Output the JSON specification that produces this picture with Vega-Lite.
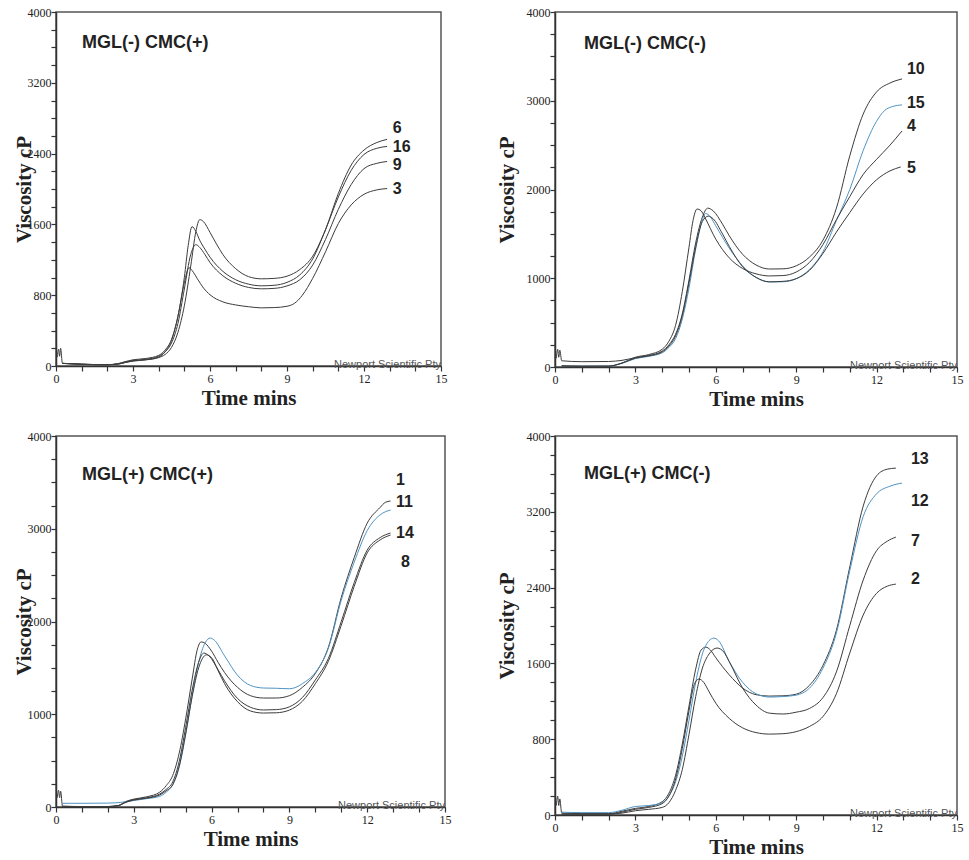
{
"$schema": "https://vega.github.io/schema/vega-lite/v6.json",
"background": "white",
"padding": {"left": 12, "top": 5, "right": 0, "bottom": 5},
"datasets": {
"curves": [
{"p":1,"s":"6","t":0.05,"v":100},{"p":1,"s":"6","t":0.1,"v":190},{"p":1,"s":"6","t":0.14,"v":110},{"p":1,"s":"6","t":0.18,"v":200},{"p":1,"s":"6","t":0.25,"v":30},{"p":1,"s":"6","t":0.5,"v":25},{"p":1,"s":"6","t":1,"v":20},{"p":1,"s":"6","t":1.5,"v":15},{"p":1,"s":"6","t":2,"v":15},{"p":1,"s":"6","t":2.4,"v":25},{"p":1,"s":"6","t":2.7,"v":45},{"p":1,"s":"6","t":3,"v":60},{"p":1,"s":"6","t":3.5,"v":70},{"p":1,"s":"6","t":4,"v":95},{"p":1,"s":"6","t":4.25,"v":130},{"p":1,"s":"6","t":4.5,"v":210},{"p":1,"s":"6","t":4.75,"v":380},{"p":1,"s":"6","t":5,"v":680},{"p":1,"s":"6","t":5.25,"v":1130},{"p":1,"s":"6","t":5.45,"v":1520},{"p":1,"s":"6","t":5.6,"v":1654},{"p":1,"s":"6","t":5.75,"v":1630},{"p":1,"s":"6","t":6,"v":1510},{"p":1,"s":"6","t":6.25,"v":1380},{"p":1,"s":"6","t":6.5,"v":1260},{"p":1,"s":"6","t":7,"v":1100},{"p":1,"s":"6","t":7.5,"v":1010},{"p":1,"s":"6","t":8,"v":985},{"p":1,"s":"6","t":8.5,"v":990},{"p":1,"s":"6","t":9,"v":1015},{"p":1,"s":"6","t":9.5,"v":1090},{"p":1,"s":"6","t":10,"v":1240},{"p":1,"s":"6","t":10.5,"v":1540},{"p":1,"s":"6","t":11,"v":1950},{"p":1,"s":"6","t":11.5,"v":2270},{"p":1,"s":"6","t":12,"v":2440},{"p":1,"s":"6","t":12.5,"v":2525},{"p":1,"s":"6","t":12.9,"v":2561},
{"p":1,"s":"16","t":0.25,"v":30},{"p":1,"s":"16","t":1,"v":20},{"p":1,"s":"16","t":2,"v":15},{"p":1,"s":"16","t":2.4,"v":25},{"p":1,"s":"16","t":2.7,"v":50},{"p":1,"s":"16","t":3,"v":70},{"p":1,"s":"16","t":3.5,"v":85},{"p":1,"s":"16","t":4,"v":120},{"p":1,"s":"16","t":4.25,"v":180},{"p":1,"s":"16","t":4.5,"v":300},{"p":1,"s":"16","t":4.75,"v":560},{"p":1,"s":"16","t":5,"v":1000},{"p":1,"s":"16","t":5.15,"v":1360},{"p":1,"s":"16","t":5.3,"v":1575},{"p":1,"s":"16","t":5.45,"v":1520},{"p":1,"s":"16","t":5.6,"v":1420},{"p":1,"s":"16","t":5.8,"v":1320},{"p":1,"s":"16","t":6,"v":1230},{"p":1,"s":"16","t":6.5,"v":1070},{"p":1,"s":"16","t":7,"v":975},{"p":1,"s":"16","t":7.5,"v":925},{"p":1,"s":"16","t":8,"v":906},{"p":1,"s":"16","t":8.5,"v":912},{"p":1,"s":"16","t":9,"v":945},{"p":1,"s":"16","t":9.5,"v":1030},{"p":1,"s":"16","t":10,"v":1210},{"p":1,"s":"16","t":10.5,"v":1540},{"p":1,"s":"16","t":11,"v":1910},{"p":1,"s":"16","t":11.5,"v":2210},{"p":1,"s":"16","t":12,"v":2390},{"p":1,"s":"16","t":12.5,"v":2460},{"p":1,"s":"16","t":12.9,"v":2481},
{"p":1,"s":"9","t":0.25,"v":30},{"p":1,"s":"9","t":1,"v":20},{"p":1,"s":"9","t":2,"v":15},{"p":1,"s":"9","t":2.4,"v":20},{"p":1,"s":"9","t":2.7,"v":40},{"p":1,"s":"9","t":3,"v":60},{"p":1,"s":"9","t":3.5,"v":75},{"p":1,"s":"9","t":4,"v":110},{"p":1,"s":"9","t":4.25,"v":160},{"p":1,"s":"9","t":4.5,"v":260},{"p":1,"s":"9","t":4.75,"v":480},{"p":1,"s":"9","t":5,"v":870},{"p":1,"s":"9","t":5.25,"v":1260},{"p":1,"s":"9","t":5.45,"v":1371},{"p":1,"s":"9","t":5.6,"v":1340},{"p":1,"s":"9","t":5.8,"v":1260},{"p":1,"s":"9","t":6,"v":1170},{"p":1,"s":"9","t":6.5,"v":1020},{"p":1,"s":"9","t":7,"v":935},{"p":1,"s":"9","t":7.5,"v":888},{"p":1,"s":"9","t":8,"v":872},{"p":1,"s":"9","t":8.5,"v":877},{"p":1,"s":"9","t":9,"v":905},{"p":1,"s":"9","t":9.5,"v":975},{"p":1,"s":"9","t":10,"v":1140},{"p":1,"s":"9","t":10.5,"v":1430},{"p":1,"s":"9","t":11,"v":1770},{"p":1,"s":"9","t":11.5,"v":2050},{"p":1,"s":"9","t":12,"v":2230},{"p":1,"s":"9","t":12.5,"v":2290},{"p":1,"s":"9","t":12.9,"v":2311},
{"p":1,"s":"3","t":0.25,"v":30},{"p":1,"s":"3","t":1,"v":20},{"p":1,"s":"3","t":2,"v":15},{"p":1,"s":"3","t":2.4,"v":20},{"p":1,"s":"3","t":2.7,"v":40},{"p":1,"s":"3","t":3,"v":55},{"p":1,"s":"3","t":3.5,"v":70},{"p":1,"s":"3","t":4,"v":100},{"p":1,"s":"3","t":4.25,"v":160},{"p":1,"s":"3","t":4.5,"v":290},{"p":1,"s":"3","t":4.75,"v":560},{"p":1,"s":"3","t":5,"v":940},{"p":1,"s":"3","t":5.18,"v":1110},{"p":1,"s":"3","t":5.35,"v":1060},{"p":1,"s":"3","t":5.5,"v":990},{"p":1,"s":"3","t":5.75,"v":880},{"p":1,"s":"3","t":6,"v":805},{"p":1,"s":"3","t":6.5,"v":725},{"p":1,"s":"3","t":7,"v":690},{"p":1,"s":"3","t":7.5,"v":670},{"p":1,"s":"3","t":8,"v":657},{"p":1,"s":"3","t":8.5,"v":660},{"p":1,"s":"3","t":9,"v":675},{"p":1,"s":"3","t":9.3,"v":710},{"p":1,"s":"3","t":9.6,"v":800},{"p":1,"s":"3","t":10,"v":990},{"p":1,"s":"3","t":10.5,"v":1290},{"p":1,"s":"3","t":11,"v":1610},{"p":1,"s":"3","t":11.5,"v":1820},{"p":1,"s":"3","t":12,"v":1940},{"p":1,"s":"3","t":12.5,"v":1990},{"p":1,"s":"3","t":12.9,"v":2005},
{"p":2,"s":"10","t":0.05,"v":100},{"p":2,"s":"10","t":0.1,"v":200},{"p":2,"s":"10","t":0.14,"v":110},{"p":2,"s":"10","t":0.18,"v":190},{"p":2,"s":"10","t":0.25,"v":70},{"p":2,"s":"10","t":1,"v":60},{"p":2,"s":"10","t":2,"v":62},{"p":2,"s":"10","t":2.5,"v":75},{"p":2,"s":"10","t":3,"v":105},{"p":2,"s":"10","t":3.5,"v":130},{"p":2,"s":"10","t":4,"v":180},{"p":2,"s":"10","t":4.25,"v":250},{"p":2,"s":"10","t":4.5,"v":370},{"p":2,"s":"10","t":4.75,"v":600},{"p":2,"s":"10","t":5,"v":980},{"p":2,"s":"10","t":5.25,"v":1400},{"p":2,"s":"10","t":5.5,"v":1690},{"p":2,"s":"10","t":5.7,"v":1790},{"p":2,"s":"10","t":5.9,"v":1760},{"p":2,"s":"10","t":6.25,"v":1610},{"p":2,"s":"10","t":6.5,"v":1480},{"p":2,"s":"10","t":7,"v":1270},{"p":2,"s":"10","t":7.5,"v":1150},{"p":2,"s":"10","t":8,"v":1104},{"p":2,"s":"10","t":8.5,"v":1106},{"p":2,"s":"10","t":9,"v":1140},{"p":2,"s":"10","t":9.5,"v":1240},{"p":2,"s":"10","t":10,"v":1430},{"p":2,"s":"10","t":10.5,"v":1790},{"p":2,"s":"10","t":11,"v":2380},{"p":2,"s":"10","t":11.5,"v":2850},{"p":2,"s":"10","t":12,"v":3100},{"p":2,"s":"10","t":12.5,"v":3200},{"p":2,"s":"10","t":12.95,"v":3246},
{"p":2,"s":"15","t":0.25,"v":10},{"p":2,"s":"15","t":1,"v":10},{"p":2,"s":"15","t":2,"v":10},{"p":2,"s":"15","t":2.5,"v":40},{"p":2,"s":"15","t":3,"v":95},{"p":2,"s":"15","t":3.5,"v":120},{"p":2,"s":"15","t":4,"v":160},{"p":2,"s":"15","t":4.25,"v":220},{"p":2,"s":"15","t":4.5,"v":320},{"p":2,"s":"15","t":4.75,"v":540},{"p":2,"s":"15","t":5,"v":890},{"p":2,"s":"15","t":5.25,"v":1330},{"p":2,"s":"15","t":5.5,"v":1660},{"p":2,"s":"15","t":5.62,"v":1730},{"p":2,"s":"15","t":5.8,"v":1690},{"p":2,"s":"15","t":6,"v":1590},{"p":2,"s":"15","t":6.5,"v":1340},{"p":2,"s":"15","t":7,"v":1140},{"p":2,"s":"15","t":7.5,"v":1010},{"p":2,"s":"15","t":8,"v":958},{"p":2,"s":"15","t":8.5,"v":960},{"p":2,"s":"15","t":9,"v":995},{"p":2,"s":"15","t":9.5,"v":1100},{"p":2,"s":"15","t":10,"v":1300},{"p":2,"s":"15","t":10.5,"v":1650},{"p":2,"s":"15","t":11,"v":2000},{"p":2,"s":"15","t":11.5,"v":2440},{"p":2,"s":"15","t":12,"v":2770},{"p":2,"s":"15","t":12.3,"v":2890},{"p":2,"s":"15","t":12.6,"v":2935},{"p":2,"s":"15","t":12.95,"v":2953},
{"p":2,"s":"4","t":0.25,"v":15},{"p":2,"s":"4","t":1,"v":10},{"p":2,"s":"4","t":2,"v":10},{"p":2,"s":"4","t":2.5,"v":45},{"p":2,"s":"4","t":3,"v":110},{"p":2,"s":"4","t":3.5,"v":140},{"p":2,"s":"4","t":4,"v":200},{"p":2,"s":"4","t":4.25,"v":290},{"p":2,"s":"4","t":4.5,"v":470},{"p":2,"s":"4","t":4.75,"v":850},{"p":2,"s":"4","t":5,"v":1350},{"p":2,"s":"4","t":5.15,"v":1650},{"p":2,"s":"4","t":5.3,"v":1780},{"p":2,"s":"4","t":5.45,"v":1760},{"p":2,"s":"4","t":5.6,"v":1680},{"p":2,"s":"4","t":6,"v":1440},{"p":2,"s":"4","t":6.5,"v":1230},{"p":2,"s":"4","t":7,"v":1110},{"p":2,"s":"4","t":7.5,"v":1050},{"p":2,"s":"4","t":8,"v":1026},{"p":2,"s":"4","t":8.5,"v":1030},{"p":2,"s":"4","t":9,"v":1070},{"p":2,"s":"4","t":9.5,"v":1180},{"p":2,"s":"4","t":10,"v":1380},{"p":2,"s":"4","t":10.5,"v":1660},{"p":2,"s":"4","t":11,"v":1920},{"p":2,"s":"4","t":11.5,"v":2170},{"p":2,"s":"4","t":12,"v":2340},{"p":2,"s":"4","t":12.5,"v":2500},{"p":2,"s":"4","t":12.7,"v":2570},{"p":2,"s":"4","t":12.95,"v":2660},
{"p":2,"s":"5","t":0.25,"v":10},{"p":2,"s":"5","t":1,"v":8},{"p":2,"s":"5","t":2,"v":10},{"p":2,"s":"5","t":2.5,"v":45},{"p":2,"s":"5","t":3,"v":100},{"p":2,"s":"5","t":3.5,"v":125},{"p":2,"s":"5","t":4,"v":170},{"p":2,"s":"5","t":4.25,"v":235},{"p":2,"s":"5","t":4.5,"v":350},{"p":2,"s":"5","t":4.75,"v":580},{"p":2,"s":"5","t":5,"v":950},{"p":2,"s":"5","t":5.25,"v":1350},{"p":2,"s":"5","t":5.5,"v":1640},{"p":2,"s":"5","t":5.72,"v":1700},{"p":2,"s":"5","t":5.9,"v":1670},{"p":2,"s":"5","t":6.25,"v":1500},{"p":2,"s":"5","t":6.5,"v":1360},{"p":2,"s":"5","t":7,"v":1130},{"p":2,"s":"5","t":7.5,"v":1010},{"p":2,"s":"5","t":8,"v":960},{"p":2,"s":"5","t":8.5,"v":965},{"p":2,"s":"5","t":9,"v":995},{"p":2,"s":"5","t":9.5,"v":1090},{"p":2,"s":"5","t":10,"v":1280},{"p":2,"s":"5","t":10.5,"v":1520},{"p":2,"s":"5","t":11,"v":1740},{"p":2,"s":"5","t":11.5,"v":1950},{"p":2,"s":"5","t":12,"v":2110},{"p":2,"s":"5","t":12.5,"v":2210},{"p":2,"s":"5","t":12.9,"v":2254},
{"p":3,"s":"1","t":0.05,"v":100},{"p":3,"s":"1","t":0.1,"v":180},{"p":3,"s":"1","t":0.14,"v":100},{"p":3,"s":"1","t":0.18,"v":170},{"p":3,"s":"1","t":0.25,"v":10},{"p":3,"s":"1","t":1,"v":5},{"p":3,"s":"1","t":2,"v":5},{"p":3,"s":"1","t":2.4,"v":15},{"p":3,"s":"1","t":2.7,"v":60},{"p":3,"s":"1","t":3,"v":85},{"p":3,"s":"1","t":3.5,"v":110},{"p":3,"s":"1","t":4,"v":160},{"p":3,"s":"1","t":4.25,"v":230},{"p":3,"s":"1","t":4.5,"v":340},{"p":3,"s":"1","t":4.75,"v":580},{"p":3,"s":"1","t":5,"v":950},{"p":3,"s":"1","t":5.25,"v":1380},{"p":3,"s":"1","t":5.45,"v":1700},{"p":3,"s":"1","t":5.6,"v":1780},{"p":3,"s":"1","t":5.75,"v":1765},{"p":3,"s":"1","t":6,"v":1680},{"p":3,"s":"1","t":6.25,"v":1560},{"p":3,"s":"1","t":6.5,"v":1450},{"p":3,"s":"1","t":7,"v":1290},{"p":3,"s":"1","t":7.5,"v":1200},{"p":3,"s":"1","t":8,"v":1175},{"p":3,"s":"1","t":8.5,"v":1175},{"p":3,"s":"1","t":9,"v":1200},{"p":3,"s":"1","t":9.5,"v":1290},{"p":3,"s":"1","t":10,"v":1440},{"p":3,"s":"1","t":10.5,"v":1720},{"p":3,"s":"1","t":11,"v":2260},{"p":3,"s":"1","t":11.5,"v":2690},{"p":3,"s":"1","t":12,"v":3060},{"p":3,"s":"1","t":12.5,"v":3230},{"p":3,"s":"1","t":12.7,"v":3285},{"p":3,"s":"1","t":12.9,"v":3299},
{"p":3,"s":"11","t":0.25,"v":40},{"p":3,"s":"11","t":1,"v":40},{"p":3,"s":"11","t":2,"v":42},{"p":3,"s":"11","t":2.5,"v":50},{"p":3,"s":"11","t":3,"v":70},{"p":3,"s":"11","t":3.5,"v":90},{"p":3,"s":"11","t":4,"v":115},{"p":3,"s":"11","t":4.25,"v":160},{"p":3,"s":"11","t":4.5,"v":240},{"p":3,"s":"11","t":4.75,"v":430},{"p":3,"s":"11","t":5,"v":780},{"p":3,"s":"11","t":5.25,"v":1200},{"p":3,"s":"11","t":5.5,"v":1560},{"p":3,"s":"11","t":5.75,"v":1770},{"p":3,"s":"11","t":5.95,"v":1822},{"p":3,"s":"11","t":6.1,"v":1800},{"p":3,"s":"11","t":6.5,"v":1630},{"p":3,"s":"11","t":7,"v":1420},{"p":3,"s":"11","t":7.5,"v":1310},{"p":3,"s":"11","t":8,"v":1283},{"p":3,"s":"11","t":8.5,"v":1280},{"p":3,"s":"11","t":9,"v":1275},{"p":3,"s":"11","t":9.25,"v":1290},{"p":3,"s":"11","t":9.5,"v":1330},{"p":3,"s":"11","t":10,"v":1450},{"p":3,"s":"11","t":10.5,"v":1710},{"p":3,"s":"11","t":11,"v":2230},{"p":3,"s":"11","t":11.5,"v":2640},{"p":3,"s":"11","t":12,"v":2980},{"p":3,"s":"11","t":12.5,"v":3150},{"p":3,"s":"11","t":12.9,"v":3202},
{"p":3,"s":"14","t":0.25,"v":5},{"p":3,"s":"14","t":1,"v":5},{"p":3,"s":"14","t":2,"v":5},{"p":3,"s":"14","t":2.4,"v":15},{"p":3,"s":"14","t":2.7,"v":55},{"p":3,"s":"14","t":3,"v":80},{"p":3,"s":"14","t":3.5,"v":100},{"p":3,"s":"14","t":4,"v":140},{"p":3,"s":"14","t":4.25,"v":190},{"p":3,"s":"14","t":4.5,"v":270},{"p":3,"s":"14","t":4.75,"v":490},{"p":3,"s":"14","t":5,"v":860},{"p":3,"s":"14","t":5.25,"v":1260},{"p":3,"s":"14","t":5.5,"v":1560},{"p":3,"s":"14","t":5.7,"v":1660},{"p":3,"s":"14","t":5.9,"v":1630},{"p":3,"s":"14","t":6.25,"v":1480},{"p":3,"s":"14","t":6.5,"v":1360},{"p":3,"s":"14","t":7,"v":1170},{"p":3,"s":"14","t":7.5,"v":1075},{"p":3,"s":"14","t":8,"v":1046},{"p":3,"s":"14","t":8.5,"v":1050},{"p":3,"s":"14","t":9,"v":1080},{"p":3,"s":"14","t":9.5,"v":1180},{"p":3,"s":"14","t":10,"v":1370},{"p":3,"s":"14","t":10.5,"v":1600},{"p":3,"s":"14","t":11,"v":2000},{"p":3,"s":"14","t":11.5,"v":2420},{"p":3,"s":"14","t":12,"v":2770},{"p":3,"s":"14","t":12.5,"v":2905},{"p":3,"s":"14","t":12.9,"v":2954},
{"p":3,"s":"8","t":0.25,"v":5},{"p":3,"s":"8","t":1,"v":5},{"p":3,"s":"8","t":2,"v":5},{"p":3,"s":"8","t":2.4,"v":15},{"p":3,"s":"8","t":2.7,"v":50},{"p":3,"s":"8","t":3,"v":75},{"p":3,"s":"8","t":3.5,"v":95},{"p":3,"s":"8","t":4,"v":130},{"p":3,"s":"8","t":4.25,"v":175},{"p":3,"s":"8","t":4.5,"v":240},{"p":3,"s":"8","t":4.75,"v":440},{"p":3,"s":"8","t":5,"v":790},{"p":3,"s":"8","t":5.25,"v":1190},{"p":3,"s":"8","t":5.5,"v":1500},{"p":3,"s":"8","t":5.8,"v":1640},{"p":3,"s":"8","t":6,"v":1610},{"p":3,"s":"8","t":6.25,"v":1470},{"p":3,"s":"8","t":6.5,"v":1330},{"p":3,"s":"8","t":7,"v":1135},{"p":3,"s":"8","t":7.5,"v":1035},{"p":3,"s":"8","t":8,"v":1013},{"p":3,"s":"8","t":8.5,"v":1016},{"p":3,"s":"8","t":9,"v":1045},{"p":3,"s":"8","t":9.5,"v":1140},{"p":3,"s":"8","t":10,"v":1330},{"p":3,"s":"8","t":10.5,"v":1570},{"p":3,"s":"8","t":11,"v":1960},{"p":3,"s":"8","t":11.5,"v":2380},{"p":3,"s":"8","t":12,"v":2740},{"p":3,"s":"8","t":12.5,"v":2880},{"p":3,"s":"8","t":12.9,"v":2932},
{"p":4,"s":"13","t":0.05,"v":100},{"p":4,"s":"13","t":0.1,"v":200},{"p":4,"s":"13","t":0.14,"v":100},{"p":4,"s":"13","t":0.18,"v":170},{"p":4,"s":"13","t":0.25,"v":20},{"p":4,"s":"13","t":1,"v":15},{"p":4,"s":"13","t":2,"v":15},{"p":4,"s":"13","t":2.5,"v":40},{"p":4,"s":"13","t":3,"v":70},{"p":4,"s":"13","t":3.5,"v":90},{"p":4,"s":"13","t":4,"v":140},{"p":4,"s":"13","t":4.25,"v":230},{"p":4,"s":"13","t":4.5,"v":420},{"p":4,"s":"13","t":4.75,"v":750},{"p":4,"s":"13","t":5,"v":1150},{"p":4,"s":"13","t":5.25,"v":1540},{"p":4,"s":"13","t":5.45,"v":1740},{"p":4,"s":"13","t":5.63,"v":1772},{"p":4,"s":"13","t":5.8,"v":1740},{"p":4,"s":"13","t":6,"v":1660},{"p":4,"s":"13","t":6.5,"v":1480},{"p":4,"s":"13","t":7,"v":1340},{"p":4,"s":"13","t":7.5,"v":1270},{"p":4,"s":"13","t":8,"v":1255},{"p":4,"s":"13","t":8.5,"v":1258},{"p":4,"s":"13","t":9,"v":1275},{"p":4,"s":"13","t":9.5,"v":1370},{"p":4,"s":"13","t":10,"v":1580},{"p":4,"s":"13","t":10.5,"v":1950},{"p":4,"s":"13","t":11,"v":2620},{"p":4,"s":"13","t":11.5,"v":3260},{"p":4,"s":"13","t":12,"v":3580},{"p":4,"s":"13","t":12.4,"v":3650},{"p":4,"s":"13","t":12.72,"v":3661},
{"p":4,"s":"12","t":0.25,"v":30},{"p":4,"s":"12","t":1,"v":25},{"p":4,"s":"12","t":2,"v":25},{"p":4,"s":"12","t":2.5,"v":50},{"p":4,"s":"12","t":3,"v":90},{"p":4,"s":"12","t":3.5,"v":100},{"p":4,"s":"12","t":4,"v":130},{"p":4,"s":"12","t":4.25,"v":200},{"p":4,"s":"12","t":4.5,"v":350},{"p":4,"s":"12","t":4.75,"v":620},{"p":4,"s":"12","t":5,"v":1000},{"p":4,"s":"12","t":5.25,"v":1400},{"p":4,"s":"12","t":5.5,"v":1700},{"p":4,"s":"12","t":5.75,"v":1840},{"p":4,"s":"12","t":5.93,"v":1867},{"p":4,"s":"12","t":6.1,"v":1840},{"p":4,"s":"12","t":6.5,"v":1620},{"p":4,"s":"12","t":7,"v":1400},{"p":4,"s":"12","t":7.5,"v":1280},{"p":4,"s":"12","t":8,"v":1245},{"p":4,"s":"12","t":8.5,"v":1250},{"p":4,"s":"12","t":9,"v":1265},{"p":4,"s":"12","t":9.5,"v":1340},{"p":4,"s":"12","t":10,"v":1550},{"p":4,"s":"12","t":10.5,"v":1920},{"p":4,"s":"12","t":11,"v":2580},{"p":4,"s":"12","t":11.5,"v":3150},{"p":4,"s":"12","t":12,"v":3390},{"p":4,"s":"12","t":12.5,"v":3470},{"p":4,"s":"12","t":12.95,"v":3503},
{"p":4,"s":"7","t":0.25,"v":10},{"p":4,"s":"7","t":1,"v":10},{"p":4,"s":"7","t":2,"v":10},{"p":4,"s":"7","t":2.5,"v":20},{"p":4,"s":"7","t":3,"v":45},{"p":4,"s":"7","t":3.5,"v":60},{"p":4,"s":"7","t":4,"v":80},{"p":4,"s":"7","t":4.25,"v":130},{"p":4,"s":"7","t":4.5,"v":260},{"p":4,"s":"7","t":4.75,"v":480},{"p":4,"s":"7","t":5,"v":850},{"p":4,"s":"7","t":5.25,"v":1250},{"p":4,"s":"7","t":5.5,"v":1550},{"p":4,"s":"7","t":5.75,"v":1700},{"p":4,"s":"7","t":6.05,"v":1762},{"p":4,"s":"7","t":6.3,"v":1720},{"p":4,"s":"7","t":6.5,"v":1620},{"p":4,"s":"7","t":7,"v":1340},{"p":4,"s":"7","t":7.5,"v":1160},{"p":4,"s":"7","t":8,"v":1075},{"p":4,"s":"7","t":8.5,"v":1066},{"p":4,"s":"7","t":9,"v":1085},{"p":4,"s":"7","t":9.5,"v":1125},{"p":4,"s":"7","t":10,"v":1240},{"p":4,"s":"7","t":10.5,"v":1510},{"p":4,"s":"7","t":11,"v":2000},{"p":4,"s":"7","t":11.5,"v":2480},{"p":4,"s":"7","t":12,"v":2790},{"p":4,"s":"7","t":12.4,"v":2890},{"p":4,"s":"7","t":12.72,"v":2933},
{"p":4,"s":"2","t":0.25,"v":10},{"p":4,"s":"2","t":1,"v":10},{"p":4,"s":"2","t":2,"v":10},{"p":4,"s":"2","t":2.5,"v":30},{"p":4,"s":"2","t":3,"v":60},{"p":4,"s":"2","t":3.5,"v":80},{"p":4,"s":"2","t":4,"v":120},{"p":4,"s":"2","t":4.25,"v":200},{"p":4,"s":"2","t":4.5,"v":380},{"p":4,"s":"2","t":4.75,"v":700},{"p":4,"s":"2","t":5,"v":1100},{"p":4,"s":"2","t":5.2,"v":1380},{"p":4,"s":"2","t":5.37,"v":1435},{"p":4,"s":"2","t":5.55,"v":1400},{"p":4,"s":"2","t":5.75,"v":1300},{"p":4,"s":"2","t":6,"v":1180},{"p":4,"s":"2","t":6.5,"v":1020},{"p":4,"s":"2","t":7,"v":920},{"p":4,"s":"2","t":7.5,"v":870},{"p":4,"s":"2","t":8,"v":854},{"p":4,"s":"2","t":8.5,"v":858},{"p":4,"s":"2","t":9,"v":880},{"p":4,"s":"2","t":9.5,"v":935},{"p":4,"s":"2","t":10,"v":1040},{"p":4,"s":"2","t":10.5,"v":1280},{"p":4,"s":"2","t":11,"v":1710},{"p":4,"s":"2","t":11.5,"v":2110},{"p":4,"s":"2","t":12,"v":2340},{"p":4,"s":"2","t":12.4,"v":2415},{"p":4,"s":"2","t":12.72,"v":2437}
],
"ends": [
{"p":1,"s":"6","t":13.12,"v":2685},{"p":1,"s":"16","t":13.12,"v":2470},{"p":1,"s":"9","t":13.12,"v":2266},{"p":1,"s":"3","t":13.12,"v":2005},
{"p":2,"s":"10","t":13.13,"v":3358},{"p":2,"s":"15","t":13.13,"v":2975},{"p":2,"s":"4","t":13.13,"v":2716},{"p":2,"s":"5","t":13.13,"v":2243},
{"p":3,"s":"1","t":13.11,"v":3525},{"p":3,"s":"11","t":13.11,"v":3288},{"p":3,"s":"14","t":13.11,"v":2954},{"p":3,"s":"8","t":13.3,"v":2641},
{"p":4,"s":"13","t":13.28,"v":3756},{"p":4,"s":"12","t":13.28,"v":3313},{"p":4,"s":"7","t":13.28,"v":2891},{"p":4,"s":"2","t":13.28,"v":2490}
],
"heads": [
{"p":1,"name":"MGL(-) CMC(+)","t":1.01,"v":3649},
{"p":2,"name":"MGL(-) CMC(-)","t":1.08,"v":3640},
{"p":3,"name":"MGL(+) CMC(+)","t":1.0,"v":3579},
{"p":4,"name":"MGL(+) CMC(-)","t":1.08,"v":3598}
]
},
"config": {
"view": {"stroke": "#555555", "strokeWidth": 1.5},
"axis": {"grid": false, "domainColor": "#333333", "domainWidth": 1.5, "tickColor": "#333333", "tickWidth": 1.2, "tickSize": 5, "labelFont": "Liberation Serif", "labelFontSize": 12, "labelColor": "#222222", "titleFont": "Liberation Serif", "titleFontSize": 21, "titleFontWeight": "bold", "titleColor": "#222222", "labelFlush": false, "labelOverlap": false}
},
"vconcat": [
{"hconcat": [
{"width": 385, "height": 354,
"resolve": {"axis": {"x": "independent", "y": "independent"}},
"layer": [
{"data": {"name": "curves"}, "transform": [{"filter": "datum.p == 1"}],
"mark": {"type": "line", "interpolate": "monotone", "strokeWidth": 1},
"encoding": {
"x": {"field": "t", "type": "quantitative", "scale": {"domain": [0, 15], "nice": false}, "axis": {"orient": "bottom", "title": "Time mins", "values": [0,3,6,9,12,15], "labelPadding": 2, "titlePadding": 3}},
"y": {"field": "v", "type": "quantitative", "scale": {"domain": [0, 4000], "nice": false}, "axis": {"orient": "left", "title": "Viscosity cP", "format": "d", "values": [0,800,1600,2400,3200,4000], "labelPadding": 0, "titlePadding": -7}},
"color": {"field": "s", "type": "nominal", "scale": {"domain": ["6","16","9","3","10","15","4","5","1","11","14","8","13","12","7","2"], "range": ["#3c3c3c","#3c3c3c","#3c3c3c","#3c3c3c","#3c3c3c","#4f93c4","#3c3c3c","#3c3c3c","#3c3c3c","#4f93c4","#3c3c3c","#3c3c3c","#3c3c3c","#4f93c4","#3c3c3c","#3c3c3c"]}, "legend": null}
}},
{"data": {"name": "ends"}, "transform": [{"filter": "datum.p == 1"}],
"mark": {"type": "text", "align": "left", "baseline": "middle", "font": "Liberation Sans", "fontSize": 16, "fontWeight": "bold", "color": "#222222"},
"encoding": {"x": {"field": "t", "type": "quantitative", "axis": null}, "y": {"field": "v", "type": "quantitative", "axis": null}, "text": {"field": "s"}}},
{"data": {"name": "heads"}, "transform": [{"filter": "datum.p == 1"}],
"mark": {"type": "text", "align": "left", "baseline": "middle", "font": "Liberation Sans", "fontSize": 18, "fontWeight": "bold", "color": "#222222"},
"encoding": {"x": {"field": "t", "type": "quantitative", "axis": null}, "y": {"field": "v", "type": "quantitative", "axis": null}, "text": {"field": "name"}}},
{"data": {"values": [{}]},
"mark": {"type": "text", "text": "Newport Scientific Pty", "align": "right", "baseline": "alphabetic", "font": "Liberation Sans", "fontSize": 11, "color": "#555555", "dy": 2},
"encoding": {"x": {"datum": 15, "type": "quantitative", "axis": {"orient": "bottom", "values": [1,2,4,5,7,8,10,11,13,14], "labels": false, "domain": false, "title": null}}, "y": {"datum": 0, "type": "quantitative", "axis": {"orient": "left", "values": [200,400,600,1000,1200,1400,1800,2000,2200,2600,2800,3000,3400,3600,3800], "labels": false, "domain": false, "title": null}}}}
]},
{"width": 402, "height": 355,
"resolve": {"axis": {"x": "independent", "y": "independent"}},
"layer": [
{"data": {"name": "curves"}, "transform": [{"filter": "datum.p == 2"}],
"mark": {"type": "line", "interpolate": "monotone", "strokeWidth": 1},
"encoding": {
"x": {"field": "t", "type": "quantitative", "scale": {"domain": [0, 15], "nice": false}, "axis": {"orient": "bottom", "title": "Time mins", "values": [0,3,6,9,12,15], "labelPadding": 2, "titlePadding": 3}},
"y": {"field": "v", "type": "quantitative", "scale": {"domain": [0, 4000], "nice": false}, "axis": {"orient": "left", "title": "Viscosity cP", "format": "d", "values": [0,1000,2000,3000,4000], "labelPadding": 0, "titlePadding": 9}},
"color": {"field": "s", "type": "nominal", "scale": {"domain": ["6","16","9","3","10","15","4","5","1","11","14","8","13","12","7","2"], "range": ["#3c3c3c","#3c3c3c","#3c3c3c","#3c3c3c","#3c3c3c","#4f93c4","#3c3c3c","#3c3c3c","#3c3c3c","#4f93c4","#3c3c3c","#3c3c3c","#3c3c3c","#4f93c4","#3c3c3c","#3c3c3c"]}, "legend": null}
}},
{"data": {"name": "ends"}, "transform": [{"filter": "datum.p == 2"}],
"mark": {"type": "text", "align": "left", "baseline": "middle", "font": "Liberation Sans", "fontSize": 16, "fontWeight": "bold", "color": "#222222"},
"encoding": {"x": {"field": "t", "type": "quantitative", "axis": null}, "y": {"field": "v", "type": "quantitative", "axis": null}, "text": {"field": "s"}}},
{"data": {"name": "heads"}, "transform": [{"filter": "datum.p == 2"}],
"mark": {"type": "text", "align": "left", "baseline": "middle", "font": "Liberation Sans", "fontSize": 18, "fontWeight": "bold", "color": "#222222"},
"encoding": {"x": {"field": "t", "type": "quantitative", "axis": null}, "y": {"field": "v", "type": "quantitative", "axis": null}, "text": {"field": "name"}}},
{"data": {"values": [{}]},
"mark": {"type": "text", "text": "Newport Scientific Pty", "align": "right", "baseline": "alphabetic", "font": "Liberation Sans", "fontSize": 11, "color": "#555555", "dy": 2},
"encoding": {"x": {"datum": 15, "type": "quantitative", "axis": {"orient": "bottom", "values": [1,2,4,5,7,8,10,11,13,14], "labels": false, "domain": false, "title": null}}, "y": {"datum": 0, "type": "quantitative", "axis": {"orient": "left", "values": [250,500,750,1250,1500,1750,2250,2500,2750,3250,3500,3750], "labels": false, "domain": false, "title": null}}}}
]}
], "spacing": 47},
{"hconcat": [
{"width": 389, "height": 371,
"resolve": {"axis": {"x": "independent", "y": "independent"}},
"layer": [
{"data": {"name": "curves"}, "transform": [{"filter": "datum.p == 3"}],
"mark": {"type": "line", "interpolate": "monotone", "strokeWidth": 1},
"encoding": {
"x": {"field": "t", "type": "quantitative", "scale": {"domain": [0, 15], "nice": false}, "axis": {"orient": "bottom", "title": "Time mins", "values": [0,3,6,9,12,15], "labelPadding": 2, "titlePadding": 3}},
"y": {"field": "v", "type": "quantitative", "scale": {"domain": [0, 4000], "nice": false}, "axis": {"orient": "left", "title": "Viscosity cP", "format": "d", "values": [0,1000,2000,3000,4000], "labelPadding": 0, "titlePadding": -7}},
"color": {"field": "s", "type": "nominal", "scale": {"domain": ["6","16","9","3","10","15","4","5","1","11","14","8","13","12","7","2"], "range": ["#3c3c3c","#3c3c3c","#3c3c3c","#3c3c3c","#3c3c3c","#4f93c4","#3c3c3c","#3c3c3c","#3c3c3c","#4f93c4","#3c3c3c","#3c3c3c","#3c3c3c","#4f93c4","#3c3c3c","#3c3c3c"]}, "legend": null}
}},
{"data": {"name": "ends"}, "transform": [{"filter": "datum.p == 3"}],
"mark": {"type": "text", "align": "left", "baseline": "middle", "font": "Liberation Sans", "fontSize": 16, "fontWeight": "bold", "color": "#222222"},
"encoding": {"x": {"field": "t", "type": "quantitative", "axis": null}, "y": {"field": "v", "type": "quantitative", "axis": null}, "text": {"field": "s"}}},
{"data": {"name": "heads"}, "transform": [{"filter": "datum.p == 3"}],
"mark": {"type": "text", "align": "left", "baseline": "middle", "font": "Liberation Sans", "fontSize": 18, "fontWeight": "bold", "color": "#222222"},
"encoding": {"x": {"field": "t", "type": "quantitative", "axis": null}, "y": {"field": "v", "type": "quantitative", "axis": null}, "text": {"field": "name"}}},
{"data": {"values": [{}]},
"mark": {"type": "text", "text": "Newport Scientific Pty", "align": "right", "baseline": "alphabetic", "font": "Liberation Sans", "fontSize": 11, "color": "#555555", "dy": 2},
"encoding": {"x": {"datum": 15, "type": "quantitative", "axis": {"orient": "bottom", "values": [1,2,4,5,7,8,10,11,13,14], "labels": false, "domain": false, "title": null}}, "y": {"datum": 0, "type": "quantitative", "axis": {"orient": "left", "values": [250,500,750,1250,1500,1750,2250,2500,2750,3250,3500,3750], "labels": false, "domain": false, "title": null}}}}
]},
{"width": 402, "height": 379,
"resolve": {"axis": {"x": "independent", "y": "independent"}},
"layer": [
{"data": {"name": "curves"}, "transform": [{"filter": "datum.p == 4"}],
"mark": {"type": "line", "interpolate": "monotone", "strokeWidth": 1},
"encoding": {
"x": {"field": "t", "type": "quantitative", "scale": {"domain": [0, 15], "nice": false}, "axis": {"orient": "bottom", "title": "Time mins", "values": [0,3,6,9,12,15], "labelPadding": 2, "titlePadding": 3}},
"y": {"field": "v", "type": "quantitative", "scale": {"domain": [0, 4000], "nice": false}, "axis": {"orient": "left", "title": "Viscosity cP", "format": "d", "values": [0,800,1600,2400,3200,4000], "labelPadding": 0, "titlePadding": 9}},
"color": {"field": "s", "type": "nominal", "scale": {"domain": ["6","16","9","3","10","15","4","5","1","11","14","8","13","12","7","2"], "range": ["#3c3c3c","#3c3c3c","#3c3c3c","#3c3c3c","#3c3c3c","#4f93c4","#3c3c3c","#3c3c3c","#3c3c3c","#4f93c4","#3c3c3c","#3c3c3c","#3c3c3c","#4f93c4","#3c3c3c","#3c3c3c"]}, "legend": null}
}},
{"data": {"name": "ends"}, "transform": [{"filter": "datum.p == 4"}],
"mark": {"type": "text", "align": "left", "baseline": "middle", "font": "Liberation Sans", "fontSize": 16, "fontWeight": "bold", "color": "#222222"},
"encoding": {"x": {"field": "t", "type": "quantitative", "axis": null}, "y": {"field": "v", "type": "quantitative", "axis": null}, "text": {"field": "s"}}},
{"data": {"name": "heads"}, "transform": [{"filter": "datum.p == 4"}],
"mark": {"type": "text", "align": "left", "baseline": "middle", "font": "Liberation Sans", "fontSize": 18, "fontWeight": "bold", "color": "#222222"},
"encoding": {"x": {"field": "t", "type": "quantitative", "axis": null}, "y": {"field": "v", "type": "quantitative", "axis": null}, "text": {"field": "name"}}},
{"data": {"values": [{}]},
"mark": {"type": "text", "text": "Newport Scientific Pty", "align": "right", "baseline": "alphabetic", "font": "Liberation Sans", "fontSize": 11, "color": "#555555", "dy": 2},
"encoding": {"x": {"datum": 15, "type": "quantitative", "axis": {"orient": "bottom", "values": [1,2,4,5,7,8,10,11,13,14], "labels": false, "domain": false, "title": null}}, "y": {"datum": 0, "type": "quantitative", "axis": {"orient": "left", "values": [200,400,600,1000,1200,1400,1800,2000,2200,2600,2800,3000,3400,3600,3800], "labels": false, "domain": false, "title": null}}}}
]}
], "spacing": 43}
], "spacing": 19
}
